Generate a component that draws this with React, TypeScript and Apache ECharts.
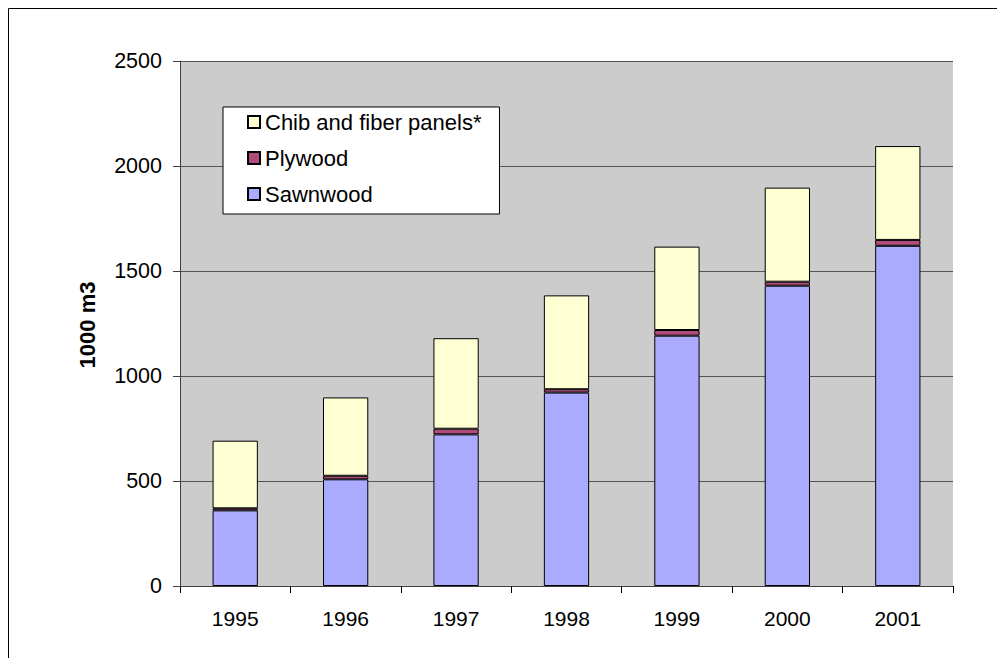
import React, { useEffect, useRef } from "react";
import * as echarts from "echarts";

const years = ["1995", "1996", "1997", "1998", "1999", "2000", "2001"];
const sawnwood = [360, 508, 722, 921, 1192, 1430, 1620];
const plywood = [10, 17, 27, 16, 27, 19, 28];
const panels = [322, 373, 431, 447, 397, 448, 447];
const yTicks = [0, 500, 1000, 1500, 2000, 2500];
const yName = "1000 m3";
const seriesNames = ["Sawnwood", "Plywood", "Chib and fiber panels*"];

const FONT = "Arial, 'Liberation Sans', sans-serif";

export default function App() {
  const ref = useRef<HTMLDivElement>(null);
  useEffect(() => {
    if (!ref.current) return;
    const chart = echarts.init(ref.current, undefined, { renderer: "svg" });
    const barStyle = (color: string) => ({
      color,
      borderColor: "#000",
      borderWidth: 1,
    });
    chart.setOption({
      animation: false,
      textStyle: { fontFamily: FONT },
      grid: {
        left: 172,
        top: 53,
        width: 773,
        height: 525,
        show: true,
        backgroundColor: "#cccccc",
        borderWidth: 0,
      },
      legend: {
        data: [seriesNames[2], seriesNames[1], seriesNames[0]],
        orient: "vertical",
        left: 215,
        top: 99,
        icon: "rect",
        itemWidth: 12,
        itemHeight: 12,
        itemGap: 14,
        padding: [4, 18, 9, 24],
        backgroundColor: "#fff",
        borderColor: "#000",
        borderWidth: 1,
        borderRadius: 0,
        textStyle: { fontSize: 22, color: "#000", fontFamily: FONT },
      },
      xAxis: {
        type: "category",
        data: years,
        axisLine: { lineStyle: { color: "#404040", width: 1 } },
        axisTick: { show: true, length: 7, lineStyle: { color: "#000" } },
        axisLabel: { fontSize: 21, color: "#000", margin: 22, fontFamily: FONT },
      },
      yAxis: {
        type: "value",
        min: yTicks[0],
        max: yTicks[yTicks.length - 1],
        interval: 500,
        axisLine: { show: true, lineStyle: { color: "#404040", width: 1 } },
        axisTick: { show: true, length: 7, lineStyle: { color: "#404040" } },
        axisLabel: {
          fontSize: 21.5,
          color: "#000",
          margin: 18,
          fontFamily: FONT,
          formatter: (v: number) => String(v),
        },
        splitLine: { show: true, lineStyle: { color: "#555", width: 1 } },
      },
      graphic: [
        {
          type: "rect",
          shape: { x: 0.5, y: 0.5, width: 1200, height: 900 },
          style: { fill: "none", stroke: "#000", lineWidth: 1 },
          silent: true,
          z: 100,
        },
        {
          type: "text",
          x: 79,
          y: 317,
          rotation: Math.PI / 2,
          style: {
            text: yName,
            fontSize: 22,
            fontWeight: "bold",
            fontFamily: FONT,
            fill: "#000",
            textAlign: "center",
            textVerticalAlign: "middle",
          },
        },
      ],
      series: [
        {
          name: seriesNames[0],
          type: "bar",
          stack: "total",
          data: sawnwood,
          barWidth: "41%",
          itemStyle: barStyle("#aaaaff"),
        },
        {
          name: seriesNames[1],
          type: "bar",
          stack: "total",
          data: plywood,
          barWidth: "41%",
          itemStyle: barStyle("#b04c7c"),
        },
        {
          name: seriesNames[2],
          type: "bar",
          stack: "total",
          data: panels,
          barWidth: "41%",
          itemStyle: barStyle("#ffffd4"),
        },
      ],
    });
    return () => chart.dispose();
  }, []);
  return <div ref={ref} style={{ width: 989, height: 650 }} />;
}
